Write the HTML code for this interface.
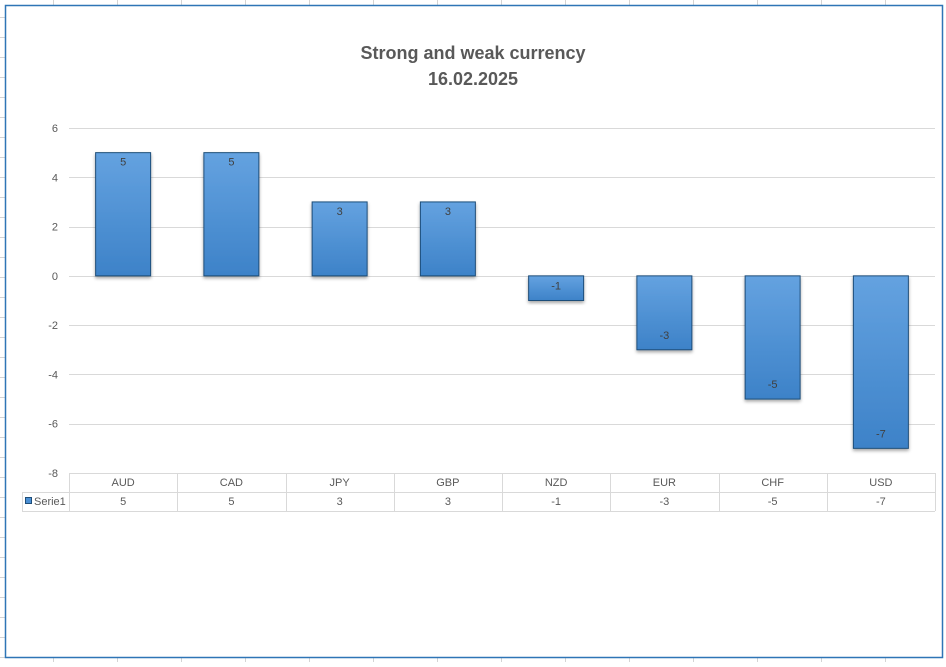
<!DOCTYPE html>
<html><head><meta charset="utf-8"><style>
body{margin:0;width:946px;height:662px;background:#fff;overflow:hidden;font-family:"Liberation Sans",sans-serif}
</style></head><body>
<svg width="946" height="662" xmlns="http://www.w3.org/2000/svg">
<defs>
<linearGradient id="g" x1="0" y1="0" x2="0" y2="1"><stop offset="0" stop-color="#64a2e0"/><stop offset="1" stop-color="#3d82c8"/></linearGradient>
<filter id="sh" x="-20%" y="-20%" width="140%" height="140%"><feDropShadow dx="0" dy="2" stdDeviation="1.5" flood-color="#000" flood-opacity="0.35"/></filter>
</defs>
<g id="sheet" stroke="#d4d4d4" stroke-width="1"></g>
<rect x="5.5" y="5.5" width="937" height="652" fill="#fff" stroke="#2e75b6" stroke-width="1.5"/>
<text x="473" y="59" text-anchor="middle" font-size="18" font-weight="bold" fill="#595959">Strong and weak currency</text>
<text x="473" y="85" text-anchor="middle" font-size="18" font-weight="bold" fill="#595959">16.02.2025</text>
<g id="grid"></g><g id="ylab"></g><g id="bars"></g><g id="tbl"></g>
</svg>
<script>
const categories=["AUD","CAD","JPY","GBP","NZD","EUR","CHF","USD"];
const values=[5,5,3,3,-1,-3,-5,-7];
const yTicks=[6,4,2,0,-2,-4,-6,-8];
const NS="http://www.w3.org/2000/svg";
const L=69,R=935,T=128,B=473,yMax=6,yMin=-8;
const cw=(R-L)/categories.length;
function y(v){return T+(yMax-v)*(B-T)/(yMax-yMin);}
function x(i){return L+cw*(i+0.5);}
function mk(tag,a,parent,txt){const e=document.createElementNS(NS,tag);for(const k in a)e.setAttribute(k,a[k]);if(txt!==undefined)e.textContent=txt;document.getElementById(parent).appendChild(e);return e;}
// sheet grid outside chart
for(let yy=17;yy<662;yy+=20){const e=mk('line',{x1:0,x2:5,y1:yy+.5,y2:yy+.5},'sheet');}
[53,117,181,245,309,373,437,501,565,629,693,757,821,885].forEach(xx=>{const e=mk('line',{x1:xx+.5,x2:xx+.5,y1:0,y2:5},'sheet');const f=mk('line',{x1:xx+.5,x2:xx+.5,y1:658,y2:662},'sheet');});
yTicks.forEach(t=>{
 const g=mk('line',{x1:L,x2:R,y1:Math.round(y(t))+.5,y2:Math.round(y(t))+.5,stroke:'#d9d9d9'},'grid');
 
 
 const l=mk('text',{x:58,y:y(t)+4,'text-anchor':'end','font-size':11,fill:'#595959'},'ylab',String(t));
 
 
});
values.forEach((v,i)=>{
 const bw=55,y0=y(0),y1=y(v);
 const r=mk('rect',{x:x(i)-bw/2,y:Math.min(y0,y1),width:bw,height:Math.abs(y1-y0),fill:'url(#g)',stroke:'#1f4e79','stroke-width':1,filter:'url(#sh)'},'bars');
 
 
 const ty=v>=0?y1+13:y1-11;
 const t=mk('text',{x:x(i),y:ty,'text-anchor':'middle','font-size':11,fill:'#404040'},'bars',String(v));
 
 
});
// data table
const r1=473,r2=492,r3=511;
[[L,R,r1],[22,R,r2],[22,R,r3]].forEach(a=>{const e=mk('line',{x1:a[0],x2:a[1],y1:a[2]+.5,y2:a[2]+.5,stroke:'#d9d9d9'},'tbl');});
const v0=mk('line',{x1:22.5,x2:22.5,y1:r2,y2:r3,stroke:'#d9d9d9'},'tbl');
for(let i=0;i<=categories.length;i++){const xx=Math.round(L+cw*i)+.5;const e=mk('line',{x1:xx,x2:xx,y1:r1,y2:r3,stroke:'#d9d9d9'},'tbl');}
categories.forEach((c,i)=>{
 const a=mk('text',{x:x(i),y:486,'text-anchor':'middle','font-size':11,fill:'#595959'},'tbl',c);
 
 
 const b=mk('text',{x:x(i),y:505,'text-anchor':'middle','font-size':11,fill:'#595959'},'tbl',String(values[i]));
 
 
});
const k=mk('rect',{x:25.5,y:497.5,width:6,height:6,fill:'#4a8fd4',stroke:'#1f4e79'},'tbl');


const lt=mk('text',{x:34,y:505,'font-size':11,fill:'#595959'},'tbl','Serie1');


</script>
</body></html>
